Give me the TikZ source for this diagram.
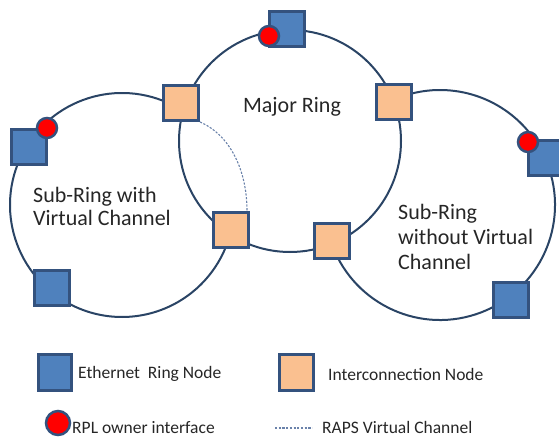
\documentclass[tikz,border=0pt]{standalone}
\usepackage{fontspec}
\setmainfont{Carlito}
\definecolor{ringline}{HTML}{2A4465}
\definecolor{nodeborder}{HTML}{34527E}
\definecolor{ethfill}{HTML}{4F81BD}
\definecolor{icfill}{HTML}{FAC090}
\definecolor{vcline}{HTML}{6A82AA}
\definecolor{txt}{HTML}{262626}
\definecolor{rplfill}{HTML}{FF0000}
\tikzset{
  ring/.style={draw=ringline, line width=2pt},
  ethnode/.style={rectangle, draw=nodeborder, fill=ethfill, line width=3pt, minimum size=35pt, inner sep=0pt},
  icnode/.style={rectangle, draw=nodeborder, fill=icfill, line width=3pt, minimum size=35pt, inner sep=0pt},
  rplnode/.style={circle, draw=nodeborder, fill=rplfill, line width=2.5pt, minimum size=20pt, inner sep=0pt},
  rpllegend/.style={rplnode, minimum size=24pt},
  vc/.style={draw=vcline, line width=1.1pt, dash pattern=on 2.2pt off 1.5pt},
  bigtxt/.style={text=txt, inner sep=0pt, font=\fontsize{22}{23}\selectfont},
  smalltxt/.style={text=txt, inner sep=0pt, font=\fontsize{17.5}{20}\selectfont, anchor=base west},
}
\begin{document}
\begin{tikzpicture}[x=1pt,y=1pt]
\useasboundingbox (0,0) rectangle (559,437);
% rings
\draw[ring] (290,296) circle[radius=111];
\draw[ring] (122,232) ++(60:112) arc[start angle=60,end angle=347,radius=112];
\draw[ring] (440,232) ++(198:115) arc[start angle=198,end angle=474,radius=115];
% ethernet ring nodes
\node[ethnode] (e1) at (287,408) {};
\node[ethnode] (e2) at (29,290) {};
\node[ethnode] (e3) at (52,149) {};
\node[ethnode] (e4) at (546,279) {};
\node[ethnode] (e5) at (511,137) {};
% interconnection nodes
\node[icnode] (i1) at (181,334) {};
\node[icnode] (i2) at (394,335) {};
\node[icnode] (i3) at (231,207) {};
\node[icnode] (i4) at (332,196) {};
% RPL owner interfaces
\node[rplnode] (r1) at (269,401) {};
\node[rplnode] (r2) at (47,309) {};
\node[rplnode] (r3) at (528,295) {};
% virtual channel
\draw[vc] (i1.south east) .. controls (230,302) and (247,267) .. ([xshift=-3pt]i3.north east);
% labels
\node[bigtxt, anchor=base] (tmaj) at (292,324) {Major Ring};
\node[bigtxt, anchor=north west, align=left] (tsub1) at (33,249.5) {Sub-Ring with\\Virtual Channel};
\node[bigtxt, anchor=north west, align=left, font=\fontsize{22}{25}\selectfont] (tsub2) at (398,232.5) {Sub-Ring\\without Virtual\\Channel};
% legend
\node[ethnode, minimum width=33pt, minimum height=36pt] (le) at (55,65) {};
\node[smalltxt] (lte) at (78,59) {Ethernet\ \ Ring Node};
\node[icnode, minimum width=34pt, minimum height=36pt] (li) at (296.5,64.5) {};
\node[smalltxt] (lti) at (328,57) {Interconnection Node};
\node[rpllegend] (lr) at (58,14) {};
\node[smalltxt] (ltr) at (72,4) {RPL owner interface};
\coordinate (lva) at (275,9);
\coordinate (lvb) at (312,9);
\draw[vc] (lva) -- (lvb);
\node[smalltxt] (ltv) at (322,4) {RAPS Virtual Channel};
\end{tikzpicture}
\end{document}
